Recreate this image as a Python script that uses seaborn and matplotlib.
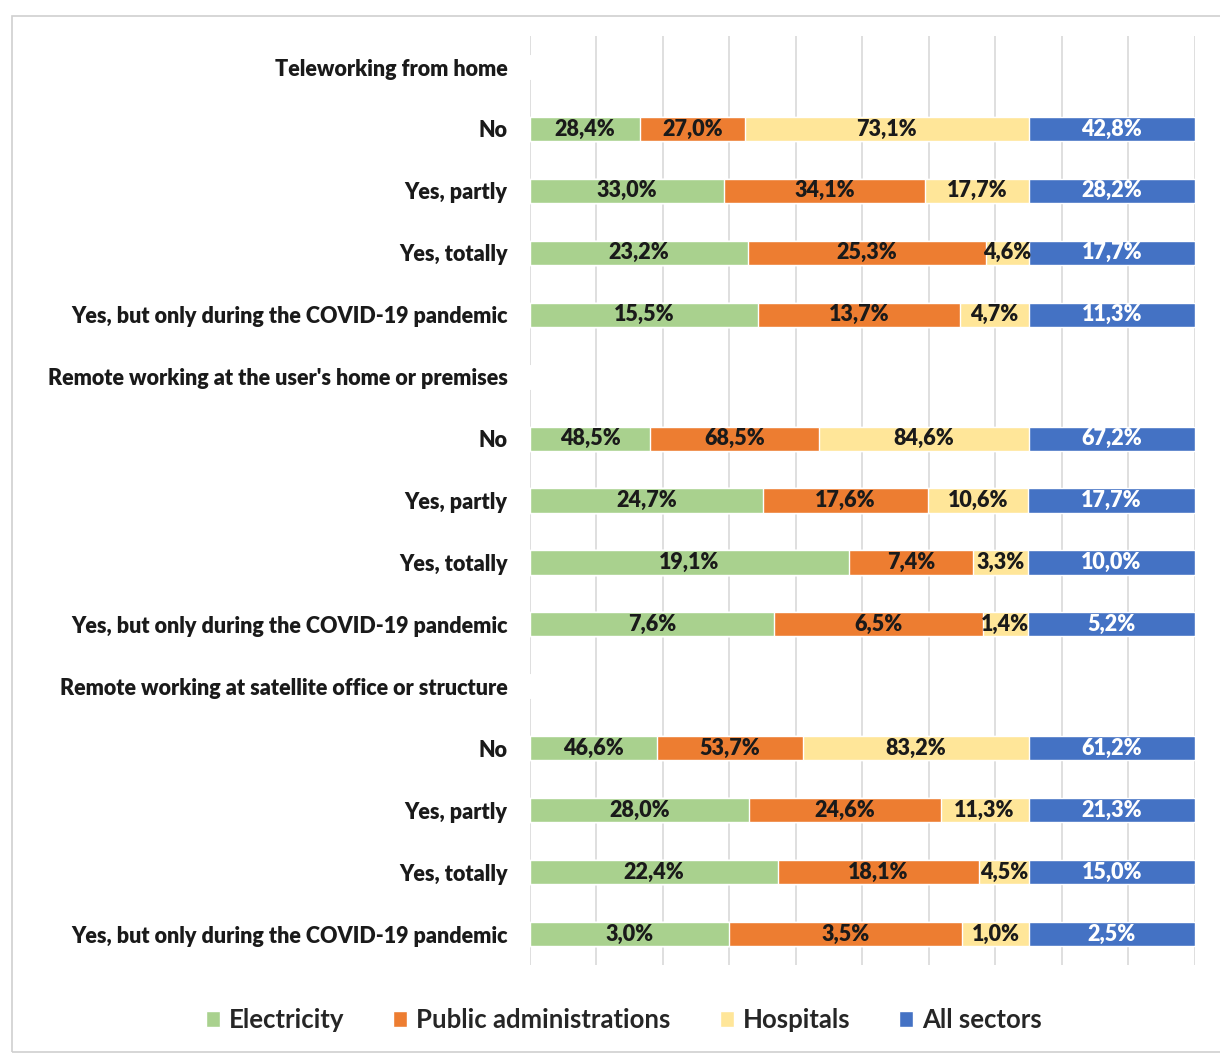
import numpy as np
import pandas as pd
import matplotlib.pyplot as plt
import seaborn as sns
from matplotlib.patches import Patch, Rectangle

# Row labels (headers have no bars)
row_labels = [
    "Teleworking from home",
    "No", "Yes, partly", "Yes, totally", "Yes, but only during the COVID-19 pandemic",
    "Remote working at the user's home or premises",
    "No", "Yes, partly", "Yes, totally", "Yes, but only during the COVID-19 pandemic",
    "Remote working at satellite office or structure",
    "No", "Yes, partly", "Yes, totally", "Yes, but only during the COVID-19 pandemic",
]
sectors = ["Electricity", "Public administrations", "Hospitals", "All sectors"]

electricity = [np.nan, 28.4, 33.0, 23.2, 15.5, np.nan, 48.5, 24.7, 19.1, 7.6, np.nan, 46.6, 28.0, 22.4, 3.0]
public_adm = [np.nan, 27.0, 34.1, 25.3, 13.7, np.nan, 68.5, 17.6, 7.4, 6.5, np.nan, 53.7, 24.6, 18.1, 3.5]
hospitals = [np.nan, 73.1, 17.7, 4.6, 4.7, np.nan, 84.6, 10.6, 3.3, 1.4, np.nan, 83.2, 11.3, 4.5, 1.0]
all_sectors = [np.nan, 42.8, 28.2, 17.7, 11.3, np.nan, 67.2, 17.7, 10.0, 5.2, np.nan, 61.2, 21.3, 15.0, 2.5]

colors = ["#A9D18E", "#ED7D31", "#FFE699", "#4472C4"]
text_colors = ["#1a1a1a", "#1a1a1a", "#1a1a1a", "white"]

# unique keys so repeated labels stay separate rows
keys = [f"r{i}" for i in range(len(row_labels))]
df = pd.DataFrame({"key": keys, "Electricity": electricity,
                   "Public administrations": public_adm, "Hospitals": hospitals,
                   "All sectors": all_sectors})

# 100% stacked shares
vals = df[sectors]
shares = vals.div(vals.sum(axis=1), axis=0)
cum = shares.cumsum(axis=1)

sns.set_style("white")
plt.rcParams['font.family'] = ['Lato', 'DejaVu Sans']

fig = plt.figure(figsize=(12.2, 10.54), dpi=100)
ax = fig.add_axes([0.4344, 0.0844, 0.5451, 0.8814])

# draw cumulative bars back to front so they look stacked
for i in range(len(sectors) - 1, -1, -1):
    plot_df = pd.DataFrame({"key": keys, "value": cum[sectors[i]].fillna(0).values})
    sns.barplot(data=plot_df, x="value", y="key", orient="h", color=colors[i],
                width=0.39, saturation=1, ax=ax, zorder=3)

# value labels
for row in range(len(keys)):
    if np.isnan(vals.iloc[row, 0]):
        continue
    left = 0
    for j, s in enumerate(sectors):
        w = shares.iloc[row, j]
        label = f"{vals.iloc[row, j]:.1f}%".replace(".", ",")
        ax.text(left + w / 2, row, label, ha="center", va="center",
                fontsize=15.5, fontweight="heavy", color=text_colors[j], zorder=5)
        left += w

ax.set_xlim(0, 1)
ax.set_ylim(len(keys) - 0.5, -0.5)
ax.set_xticks(np.arange(0, 1.01, 0.1))
ax.set_xticklabels([])
ax.set_yticks(range(len(keys)))
ax.set_yticklabels(row_labels, fontsize=15.5, fontweight="heavy", color="#1a1a1a")
ax.tick_params(axis="x", length=0)
ax.tick_params(axis="y", length=0, pad=16)
ax.grid(axis="x", color="#d9d9d9", linewidth=1.2, zorder=0)
ax.set_axisbelow(True)
ax.set_xlabel("")
ax.set_ylabel("")
for sp in ax.spines.values():
    sp.set_visible(False)

handles = [Patch(facecolor=c, label=s) for c, s in zip(colors, sectors)]
fig.legend(handles=handles, loc="center", bbox_to_anchor=(624 / 1220, 1 - 1020 / 1054),
           ncol=4, frameon=False, prop={"size": 18.5, "weight": "bold"},
           handlelength=0.55, handleheight=0.55, handletextpad=0.35, columnspacing=1.9)

fig.patches.append(Rectangle((12 / 1220, 2 / 1054), 1.0, 1 - 18 / 1054, transform=fig.transFigure,
                             fill=False, edgecolor="#d0d0d0", linewidth=1.2))

fig.savefig("out.png", dpi=100)
